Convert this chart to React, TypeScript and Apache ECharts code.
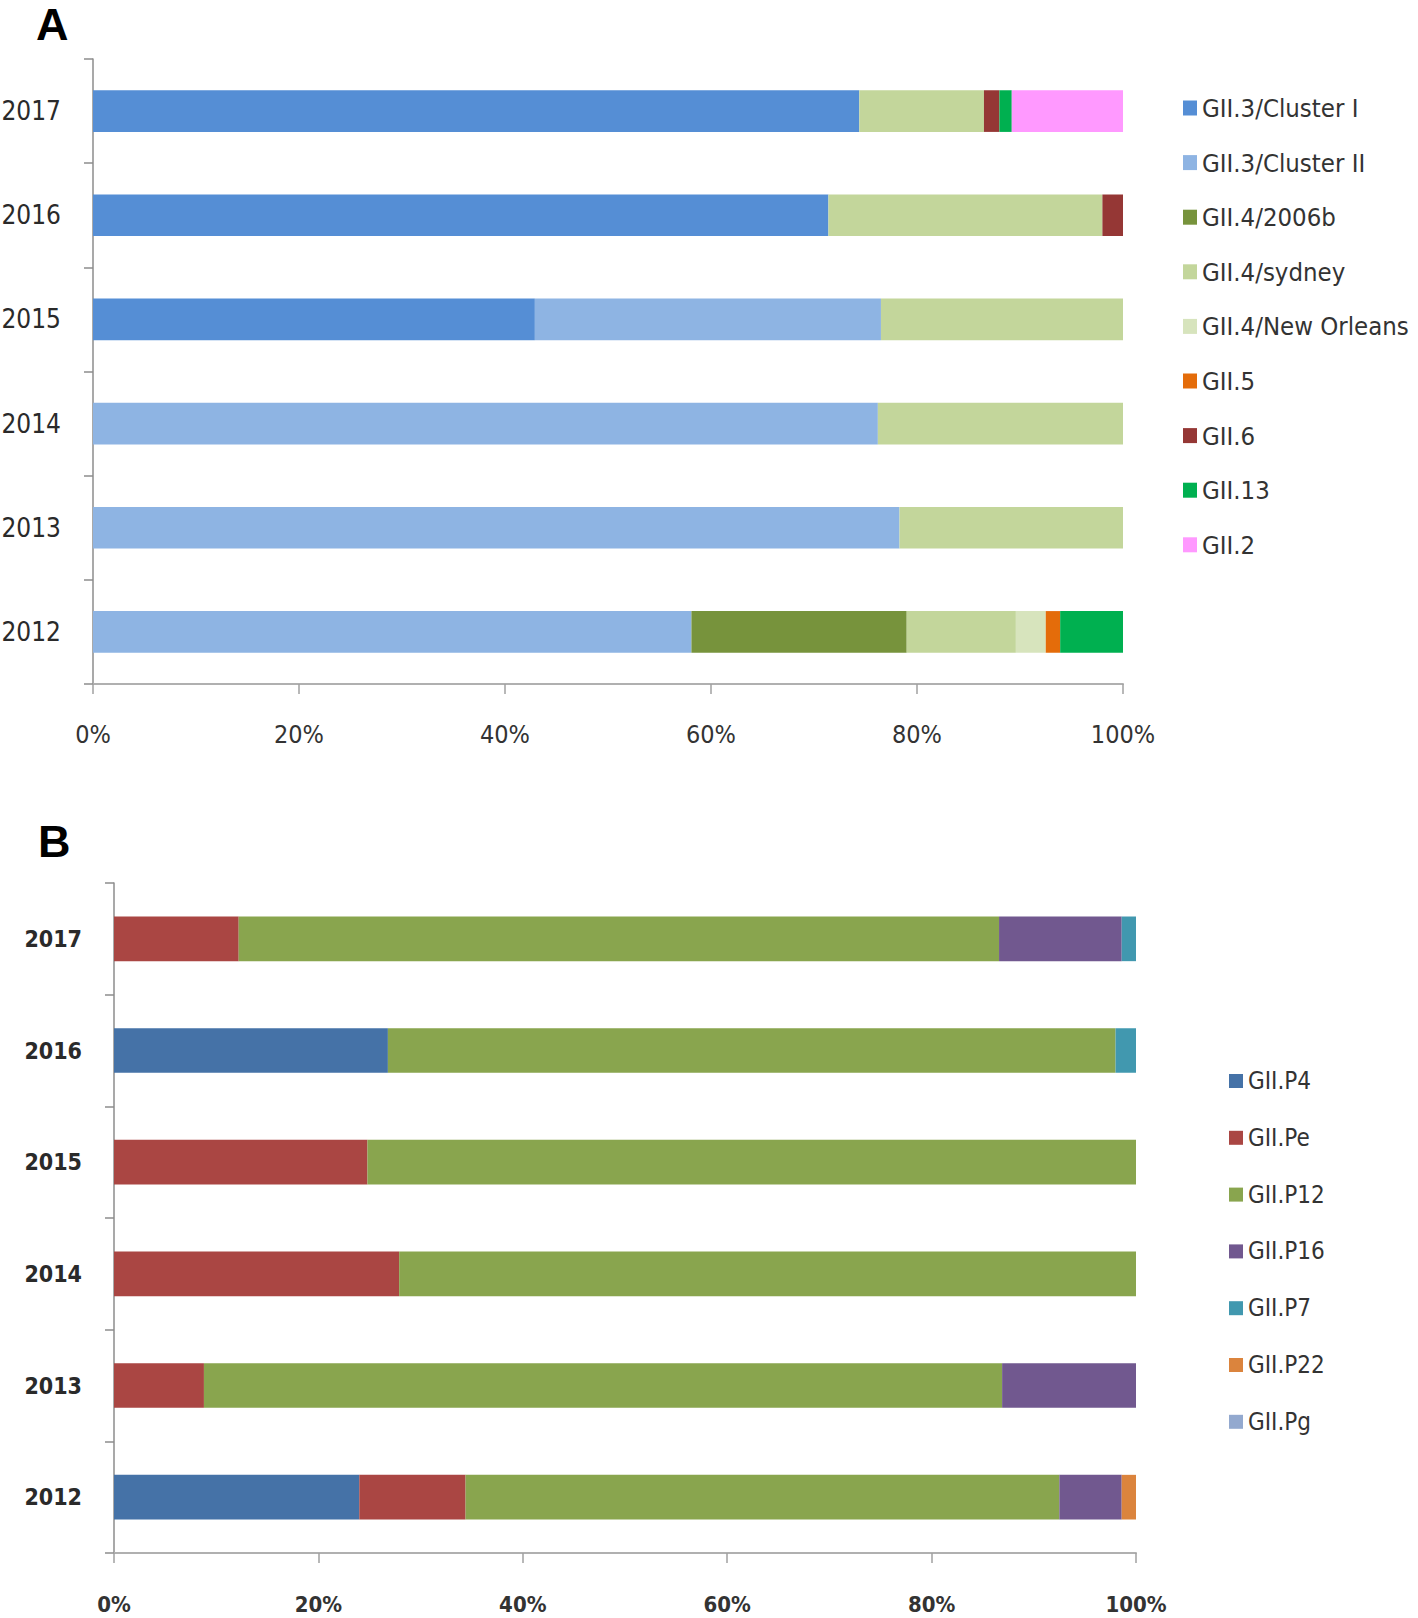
import React, { useEffect, useRef } from "react";
import * as echarts from "echarts";

const years = ["2012", "2013", "2014", "2015", "2016", "2017"];
const xTicks = [0, 20, 40, 60, 80, 100];

// Panel A (values in %, order 2012..2017)
const clusterI = [0, 0, 0, 42.9, 71.4, 74.4];
const clusterII = [58.1, 78.3, 76.2, 33.6, 0, 0];
const g2006b = [20.9, 0, 0, 0, 0, 0];
const sydney = [10.6, 21.7, 23.8, 23.5, 26.6, 12.1];
const newOrleans = [2.9, 0, 0, 0, 0, 0];
const gii5 = [1.4, 0, 0, 0, 0, 0];
const gii6 = [0, 0, 0, 0, 2.0, 1.5];
const gii13 = [6.1, 0, 0, 0, 0, 1.2];
const gii2 = [0, 0, 0, 0, 0, 10.8];

const namesA = ["GII.3/Cluster I", "GII.3/Cluster II", "GII.4/2006b", "GII.4/sydney", "GII.4/New Orleans", "GII.5", "GII.6", "GII.13", "GII.2"];
const valuesA = [clusterI, clusterII, g2006b, sydney, newOrleans, gii5, gii6, gii13, gii2];
const colorsA = ["#558ED5", "#8EB4E3", "#77933C", "#C3D69B", "#D7E4BD", "#E46C0A", "#953735", "#00B050", "#FF99FF"];

// Panel B
const p4 = [24.0, 0, 0, 0, 26.8, 0];
const pe = [10.4, 8.8, 27.9, 24.8, 0, 12.2];
const p12 = [58.1, 78.1, 72.1, 75.2, 71.2, 74.4];
const p16 = [6.1, 13.1, 0, 0, 0, 12.0];
const p7 = [0, 0, 0, 0, 2.0, 1.4];
const p22 = [1.4, 0, 0, 0, 0, 0];
const pg = [0, 0, 0, 0, 0, 0];

const namesB = ["GII.P4", "GII.Pe", "GII.P12", "GII.P16", "GII.P7", "GII.P22", "GII.Pg"];
const valuesB = [p4, pe, p12, p16, p7, p22, pg];
const colorsB = ["#4572A7", "#AA4643", "#89A54E", "#71588F", "#4198AF", "#DB843D", "#93A9CF"];

const FONT = '"DejaVu Sans Condensed", "DejaVu Sans", sans-serif';

export default function App() {
  const ref = useRef<HTMLDivElement>(null);
  useEffect(() => {
    document.body.style.margin = "0";
    const chart = echarts.init(ref.current!, null, { renderer: "svg" });
    const xAxisCommon = (bold: boolean, margin: number, size: number) => ({
      type: "value",
      min: xTicks[0],
      max: xTicks[xTicks.length - 1],
      interval: xTicks[1] - xTicks[0],
      axisLine: { show: true, lineStyle: { color: "#b0b0b0", width: 2 } },
      axisTick: { show: true, length: 10, lineStyle: { color: "#a0a0a0", width: 1.5 } },
      splitLine: { show: false },
      axisLabel: {
        formatter: "{value}%",
        fontFamily: FONT,
        fontSize: size,
        fontWeight: bold ? "bold" : "normal",
        color: "#333",
        margin,
      },
    });
    const yAxisCommon = (bold: boolean, margin: number, size: number) => ({
      type: "category",
      data: years,
      axisLine: { show: true, lineStyle: { color: "#8c8c8c", width: 1.5 } },
      axisTick: { show: true, length: 9, lineStyle: { color: "#8c8c8c", width: 1.5 } },
      axisLabel: {
        fontFamily: FONT,
        fontSize: size,
        fontWeight: bold ? "bold" : "normal",
        color: "#2a2a2a",
        margin,
      },
    });
    const seriesA = namesA.map((n, i) => ({
      name: n,
      type: "bar",
      stack: "A",
      xAxisIndex: 0,
      yAxisIndex: 0,
      barWidth: "40%",
      itemStyle: { color: colorsA[i] },
      data: valuesA[i],
    }));
    const seriesB = namesB.map((n, i) => ({
      name: n,
      type: "bar",
      stack: "B",
      xAxisIndex: 1,
      yAxisIndex: 1,
      barWidth: "40%",
      itemStyle: { color: colorsB[i] },
      data: valuesB[i],
    }));
    chart.setOption({
      animation: false,
      backgroundColor: "#ffffff",
      grid: [
        { left: 93, top: 59, width: 1030, height: 625, outerBoundsMode: "none", containLabel: false },
        { left: 114, top: 883, width: 1022, height: 670, outerBoundsMode: "none", containLabel: false },
      ],
      xAxis: [
        { ...xAxisCommon(false, 38, 25), gridIndex: 0 },
        { ...xAxisCommon(true, 40, 22), gridIndex: 1 },
      ],
      yAxis: [
        { ...yAxisCommon(false, 32, 26), gridIndex: 0 },
        { ...yAxisCommon(true, 32, 23), gridIndex: 1 },
      ],
      legend: [
        {
          data: namesA,
          orient: "vertical",
          left: 1178,
          top: 88,
          icon: "rect",
          itemWidth: 14,
          itemHeight: 15,
          itemGap: 24.6,
          textStyle: { fontFamily: FONT, fontSize: 25.5, color: "#333", lineHeight: 30 },
          selectedMode: false,
        },
        {
          data: namesB,
          orient: "vertical",
          left: 1224,
          top: 1062,
          icon: "rect",
          itemWidth: 14,
          itemHeight: 14,
          itemGap: 28.8,
          textStyle: { fontFamily: FONT, fontSize: 24, color: "#333", lineHeight: 28 },
          selectedMode: false,
        },
      ],
      graphic: [
        {
          type: "text",
          x: 36,
          y: 24,
          style: { text: "A", font: 'bold 45px "Liberation Sans", Arial, sans-serif', fill: "#000", textVerticalAlign: "middle", textAlign: "left" },
        },
        {
          type: "text",
          x: 38,
          y: 841,
          style: { text: "B", font: 'bold 45px "Liberation Sans", Arial, sans-serif', fill: "#000", textVerticalAlign: "middle", textAlign: "left" },
        },
      ],
      series: [...seriesA, ...seriesB],
    });
    return () => chart.dispose();
  }, []);
  return <div ref={ref} style={{ width: 1418, height: 1618 }} />;
}
